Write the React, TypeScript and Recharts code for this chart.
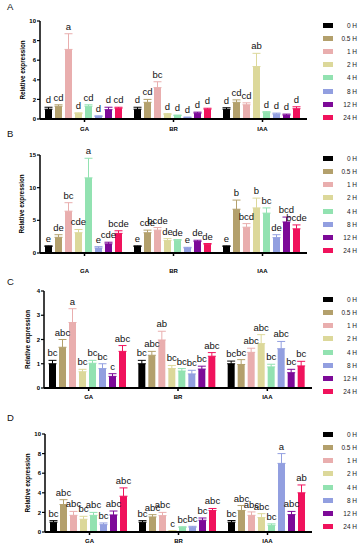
import { Bar, BarChart, ErrorBar, Label, LabelList, XAxis, YAxis } from "recharts";

const categories = ["GA", "BR", "IAA"];
const times = ["0 H", "0.5 H", "1 H", "2 H", "4 H", "8 H", "12 H", "24 H"];
const colors = ["#000000", "#b3a06c", "#e9aeae", "#dcd89a", "#92e2b1", "#929fe0", "#7d0a98", "#f0125c"];

const meanA = [
  [1.0, 1.3, 7.1, 0.55, 1.3, 0.27, 0.95, 1.1],
  [1.0, 1.7, 3.2, 0.45, 0.35, 0.15, 0.6, 1.0],
  [1.0, 1.7, 1.45, 5.35, 0.65, 0.5, 0.4, 1.05],
];
const errA = [
  [0.2, 0.15, 1.6, 0.08, 0.15, 0.05, 0.25, 0.1],
  [0.2, 0.3, 0.6, 0.1, 0.05, 0.05, 0.1, 0.1],
  [0.15, 0.25, 0.2, 1.35, 0.1, 0.1, 0.1, 0.2],
];
const lettersA = [
  ["d", "cd", "a", "d", "cd", "d", "d", "cd"],
  ["d", "cd", "bc", "d", "d", "d", "d", "d"],
  ["d", "cd", "cd", "ab", "d", "d", "d", "d"],
];

const meanB = [
  [1.0, 2.4, 6.4, 3.1, 11.5, 0.77, 1.4, 3.0],
  [1.0, 3.1, 3.5, 1.9, 1.95, 0.77, 1.75, 1.35],
  [1.0, 6.7, 3.95, 6.9, 6.1, 2.35, 4.75, 3.7],
];
const errB = [
  [0.1, 0.4, 1.3, 0.5, 3.0, 0.2, 0.25, 0.4],
  [0.1, 0.4, 0.4, 0.3, 0.1, 0.1, 0.2, 0.1],
  [0.1, 1.4, 0.55, 1.5, 0.8, 0.45, 0.75, 0.6],
];
const lettersB = [
  ["e", "de", "bc", "cde", "a", "e", "cde", "bcde"],
  ["e", "cde", "bcde", "de", "de", "e", "de", "de"],
  ["e", "b", "bcd", "b", "bc", "de", "bcd", "bcde"],
];

const meanC = [
  [1.0, 1.68, 2.7, 0.67, 1.02, 0.8, 0.48, 1.51],
  [1.0, 1.35, 1.98, 0.8, 0.7, 0.58, 0.78, 1.31],
  [1.0, 0.97, 1.47, 1.83, 0.87, 1.62, 0.63, 0.91],
];
const errC = [
  [0.14, 0.32, 0.57, 0.1, 0.12, 0.2, 0.11, 0.24],
  [0.14, 0.16, 0.36, 0.13, 0.1, 0.15, 0.12, 0.15],
  [0.11, 0.2, 0.17, 0.37, 0.11, 0.3, 0.14, 0.19],
];
const lettersC = [
  ["bc", "abc", "a", "bc", "bc", "bc", "c", "abc"],
  ["bc", "abc", "ab", "bc", "bc", "bc", "bc", "abc"],
  ["bc", "bc", "abc", "abc", "bc", "abc", "bc", "bc"],
];

const meanD = [
  [1.0, 2.8, 1.7, 1.3, 1.7, 0.75, 1.74, 3.65],
  [1.0, 1.54, 1.67, 0.1, 0.48, 0.48, 1.2, 2.2],
  [1.0, 2.2, 1.7, 1.47, 0.68, 7.0, 1.77, 4.0],
];
const errD = [
  [0.16, 0.5, 0.4, 0.3, 0.3, 0.17, 0.4, 0.85],
  [0.16, 0.23, 0.33, 0.05, 0.05, 0.1, 0.23, 0.2],
  [0.17, 0.5, 0.35, 0.4, 0.15, 1.0, 0.33, 0.8],
];
const lettersD = [
  ["bc", "abc", "abc", "bc", "abc", "bc", "abc", "abc"],
  ["bc", "abc", "abc", "c", "bc", "bc", "bc", "abc"],
  ["bc", "abc", "abc", "abc", "bc", "a", "abc", "ab"],
];

const ticksA = [0, 2, 4, 6, 8, 10];
const ticksB = [0, 5, 10, 15];
const ticksC = [0, 1, 2, 3, 4];
const ticksD = [0, 2, 4, 6, 8, 10];

const FONT = "'Liberation Sans', Arial, sans-serif";
const PAD_T = 26;
const PAD_B = 24;

type Panel = {
  name: string;
  mean: number[][];
  err: number[][];
  letters: string[][];
  ticks: number[];
  left: number;
  right: number;
  top: number;
  bottom: number;
  tickMargin: number;
  titleX: number;
  nameY: number;
  legendTop: number;
};

const panels: Panel[] = [
  { name: "A", mean: meanA, err: errA, letters: lettersA, ticks: ticksA, left: 40, right: 307, top: 21, bottom: 119, tickMargin: 5, titleX: 22, nameY: 7, legendTop: 25 },
  { name: "B", mean: meanB, err: errB, letters: lettersB, ticks: ticksB, left: 40, right: 307, top: 155, bottom: 253, tickMargin: 13, titleX: 21, nameY: 134, legendTop: 158.3 },
  { name: "C", mean: meanC, err: errC, letters: lettersC, ticks: ticksC, left: 44, right: 312, top: 291, bottom: 388, tickMargin: 4, titleX: 27, nameY: 282, legendTop: 299.3 },
  { name: "D", mean: meanD, err: errD, letters: lettersD, ticks: ticksD, left: 45, right: 312, top: 434, bottom: 532, tickMargin: 4, titleX: 27, nameY: 418, legendTop: 434.3 },
];

function PanelChart({ p }: { p: Panel }) {
  const rows = categories.map((cat, c) => {
    const row: Record<string, unknown> = { cat };
    times.forEach((_, i) => {
      row[`v${i}`] = p.mean[c][i];
      row[`e${i}`] = [0, p.err[c][i]];
      row[`l${i}`] = p.letters[c][i];
    });
    return row;
  });
  const max = p.ticks[p.ticks.length - 1];

  const letter = (i: number) => (props: any) => {
    const vb = props.viewBox ?? props;
    const { x, y, width, height } = vb;
    const idx = props.index;
    const m = p.mean[idx][i];
    const e = p.err[idx][i];
    const k = m > 0 ? height / m : 0;
    return (
      <text x={x + width / 2} y={y - e * k - 4} textAnchor="middle" fontSize={9.5} fontFamily={FONT} fill="#111">
        {props.value}
      </text>
    );
  };

  const title = (props: any) => {
    const vb = props.viewBox;
    const cy = vb.y + vb.height / 2;
    return (
      <text x={p.titleX} y={cy} transform={`rotate(-90 ${p.titleX} ${cy})`} textAnchor="middle" dominantBaseline="central" fontSize={6.3} fontWeight={700} fontFamily={FONT} fill="#000">
        Relative expression
      </text>
    );
  };

  return (
    <>
      <div style={{ position: "absolute", left: 7, top: p.nameY - 5, fontSize: 9.5, lineHeight: 1, fontFamily: FONT, color: "#111" }}>{p.name}</div>
      <div style={{ position: "absolute", left: 0, top: p.top - PAD_T }}>
        <BarChart
          width={p.right + 4}
          height={p.bottom - p.top + PAD_T + PAD_B}
          data={rows}
          margin={{ top: PAD_T, right: 4, bottom: 0, left: 0 }}
          barCategoryGap={5}
          barGap={3}
        >
          <XAxis
            dataKey="cat"
            height={PAD_B}
            interval={0}
            axisLine={{ stroke: "#000", strokeWidth: 2 }}
            tickLine={{ stroke: "#000", strokeWidth: 1.5 }}
            tickSize={3}
            tickMargin={p.tickMargin}
            tick={{ fontSize: 6, fontWeight: 700, fill: "#000", fontFamily: FONT }}
          />
          <YAxis
            width={p.left}
            domain={[0, max]}
            ticks={p.ticks}
            interval={0}
            allowDataOverflow
            axisLine={{ stroke: "#000", strokeWidth: 1.5 }}
            tickLine={{ stroke: "#000", strokeWidth: 1.2 }}
            tickSize={3}
            tickMargin={1}
            tick={{ fontSize: 6, fontWeight: 700, fill: "#000", fontFamily: FONT }}
          >
            <Label content={title} />
          </YAxis>
          {times.map((t, i) => (
            <Bar key={t} dataKey={`v${i}`} name={t} fill={colors[i]} isAnimationActive={false}>
              <ErrorBar dataKey={`e${i}`} width={4} stroke={colors[i]} strokeWidth={1} direction="y" isAnimationActive={false} />
              <LabelList dataKey={`l${i}`} content={letter(i)} />
            </Bar>
          ))}
        </BarChart>
      </div>
      {times.map((t, i) => {
        const cy = p.legendTop + i * 13.2;
        return (
          <div key={t}>
            <div style={{ position: "absolute", left: 323, top: cy - 2.5, width: 10, height: 5, background: colors[i] }} />
            <div style={{ position: "absolute", left: 333, top: cy - 3.5, width: 24, textAlign: "right", fontSize: 6.5, lineHeight: "7px", fontFamily: FONT, color: "#222" }}>{t}</div>
          </div>
        );
      })}
    </>
  );
}

export default function App() {
  return (
    <div style={{ position: "absolute", left: 0, top: 0, width: 364, height: 550, background: "#fff" }}>
      {panels.map((p) => (
        <PanelChart key={p.name} p={p} />
      ))}
    </div>
  );
}
